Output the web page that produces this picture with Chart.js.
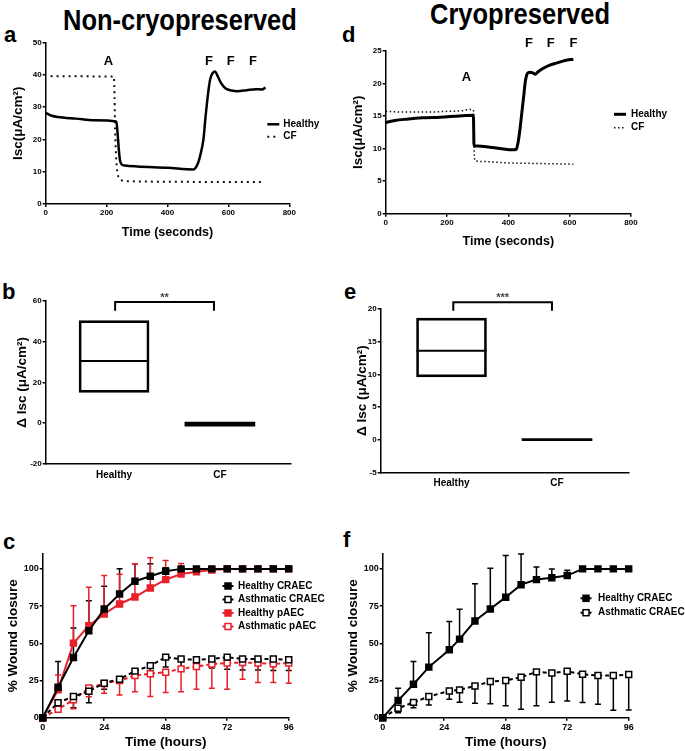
<!DOCTYPE html>
<html>
<head>
<meta charset="utf-8">
<script src="https://cdn.jsdelivr.net/npm/chart.js@4.4.0/dist/chart.umd.min.js"></script>
<style>
  body { margin: 0; background: #fff; }
  #fig { position: relative; width: 685px; height: 751px; overflow: hidden;
         font-family: 'Liberation Sans', Arial, sans-serif; font-weight: bold; color: #000; }
  #fig canvas { position: absolute; }
  .title { position: absolute; font-size: 25.5px; line-height: 1; white-space: nowrap;
           transform: scaleY(1.15); transform-origin: 0 21.6px; }
  .tag { position: absolute; font-size: 22px; line-height: 1; }
</style>
</head>
<body>
<div id="fig">
  <div class="title" style="left:63px;top:9.4px">Non-cryopreserved</div>
  <div class="title" style="left:430px;top:3.4px">Cryopreserved</div>
  <div class="tag" style="left:4px;top:24.4px">a</div>
  <div class="tag" style="left:342px;top:24.4px">d</div>
  <div class="tag" style="left:2px;top:281.4px">b</div>
  <div class="tag" style="left:344px;top:281.4px">e</div>
  <div class="tag" style="left:3px;top:531.4px">c</div>
  <div class="tag" style="left:343px;top:529px">f</div>

  <canvas id="chartA" width="340" height="212" style="left:0;top:30px"></canvas>
  <canvas id="chartD" width="345" height="222" style="left:340px;top:30px"></canvas>
  <canvas id="chartB" width="300" height="205" style="left:0;top:280px"></canvas>
  <canvas id="chartE" width="345" height="215" style="left:340px;top:280px"></canvas>
  <canvas id="chartC" width="340" height="211" style="left:0;top:540px"></canvas>
  <canvas id="chartF" width="345" height="211" style="left:340px;top:540px"></canvas>
</div>
<script>
// ---- a: non-cryopreserved Isc traces ----
const aHealthyTime = [0, 20, 40, 100, 160, 232, 236, 240, 244, 250, 260, 300, 400, 485, 500, 510, 518, 525, 533, 540, 550, 556, 565, 575, 590, 610, 630, 660, 690, 710, 722];
const aHealthyIsc  = [28.2, 27.3, 26.9, 26.4, 25.9, 25.5, 22, 17, 13.5, 12.2, 11.9, 11.6, 11.2, 10.7, 12.6, 16, 20, 27, 34, 38.5, 40.7, 41, 39.5, 37.5, 35.8, 35.1, 34.9, 35.2, 35.5, 35.4, 36];
const aCfTime = [16, 100, 200, 224, 226, 228, 231, 235, 240, 250, 260, 400, 550, 710];
const aCfIsc  = [39.5, 39.5, 39.4, 39.4, 33, 23, 15, 10, 8.2, 7.3, 7.1, 6.9, 6.8, 6.8];
const aXTicks = [0, 200, 400, 600, 800];
const aYTicks = [0, 10, 20, 30, 40, 50];
const aMarkText = ['A', 'F', 'F', 'F'];
const aMarkX = [206, 536, 608, 681];
const aMarkY = [44, 44, 44, 44];

// ---- d: cryopreserved Isc traces ----
const dHealthyTime = [0, 30, 68, 120, 177, 240, 286, 288, 300, 340, 373, 420, 426, 432, 438, 444, 450, 456, 462, 470, 480, 488, 495, 514, 535, 557, 585, 612];
const dHealthyIsc  = [14, 14.3, 14.5, 14.7, 14.8, 15, 15.1, 10.4, 10.4, 10.2, 10, 9.8, 9.9, 11, 13, 15.5, 18, 20.5, 21.5, 21.7, 21.6, 21.4, 21.7, 22.3, 22.8, 23.1, 23.5, 23.7];
const dCfTime = [0, 50, 100, 150, 200, 250, 275, 286, 289, 292, 320, 394, 500, 612];
const dCfIsc  = [15.7, 15.6, 15.6, 15.6, 15.7, 15.8, 16, 15.9, 9, 8.1, 8, 7.8, 7.7, 7.6];
const dXTicks = [0, 200, 400, 600, 800];
const dYTicks = [0, 5, 10, 15, 20, 25];
const dMarkText = ['A', 'F', 'F', 'F'];
const dMarkX = [263, 467, 538, 612];
const dMarkY = [20.9, 26.1, 26.1, 26.1];

// ---- b / e: delta Isc boxes ----
const boxCats = ['Healthy', 'CF'];
const bBoxLow  = [15.1, -1.5];
const bBoxHigh = [50.2, 0.5];
const bMedian  = [30.4];
const bYTicks = [-20, 0, 20, 40, 60];
const eBoxLow  = [9.6, -0.15];
const eBoxHigh = [18.6, 0.15];
const eMedian  = [13.6];
const eYTicks = [-5, 0, 5, 10, 15, 20];

// ---- c: wound closure, non-cryopreserved ----
const cTime = [0, 6, 12, 18, 24, 30, 36, 42, 48, 54, 60, 66, 72, 78, 84, 90, 96];
const cHealthyCraec   = [0, 20.4, 40.4, 58.4, 73, 83.1, 91.7, 95, 98.4, 100, 100, 100, 100, 100, 100, 100, 100];
const cHealthyCraecSd = [0, 17.3, 19.8, 20.2, 15.3, 17, 11.7, 8.4, 2.3, 0, 0, 0, 0, 0, 0, 0, 0];
const cAsthCraec      = [0, 10.1, 14.2, 17.8, 23.2, 25.9, 31.3, 35, 40.7, 39.4, 38.9, 39.4, 40.7, 39.4, 39.4, 39.4, 38.9];
const cAsthCraecSd    = [0, 4.9, 7.5, 7.7, 4.1, 1.6, 4, 4, 6.7, 6.8, 5.6, 6, 8.1, 7.3, 7.3, 7.7, 7.2];
const cHealthyPaec    = [0, 18.7, 50.1, 61.8, 69.7, 76.4, 81.1, 87.2, 92.8, 96.6, 98, 99.3, 100, 100, 100, 100, 100];
const cHealthyPaecSd  = [0, 10, 25.2, 25.8, 25.8, 20, 22.3, 20.2, 12.8, 7, 2, 0, 0, 0, 0, 0, 0];
const cAsthPaec       = [0, 5.7, 12, 20, 23, 25, 28.3, 29.5, 30.6, 32.8, 34.4, 36, 36.7, 37.1, 36.7, 36.2, 36.7];
const cAsthPaecSd     = [0, 2, 6, 6, 6.6, 9.7, 10.8, 15.3, 13.7, 15.3, 15.3, 16.2, 17.6, 11.2, 13.1, 12.6, 13.5];

// ---- f: wound closure, cryopreserved ----
const fTime = [0, 6, 12, 18, 26, 30, 36, 42, 48, 54, 60, 66, 72, 78, 84, 90, 96];
const fHealthy   = [0, 11.5, 22.5, 34, 45.6, 52.8, 65, 73, 81, 89.4, 92.8, 94, 95.5, 100, 100, 100, 100];
const fHealthySd = [0, 8.3, 15.3, 23, 19, 20, 25, 27.4, 28, 20.6, 8.5, 6, 3.5, 0, 0, 0, 0];
const fAsth      = [0, 6.3, 10.3, 14.2, 18, 18.7, 21.3, 24.3, 25, 27.2, 30.8, 30, 31.2, 29.2, 28.3, 28.3, 29];
const fAsthSd    = [0, 3, 3.6, 5.7, 5.6, 8.4, 11.6, 15, 17, 21.6, 22.7, 19.7, 20, 19, 19.3, 23.3, 23.8];

const woundXTicks = [0, 24, 48, 72, 96];
const woundYTicks = [0, 25, 50, 75, 100];

const RED = '#e8202a';
const FONT = "'Liberation Sans', Arial, sans-serif";

Chart.defaults.font.family = FONT;
Chart.defaults.font.weight = 'bold';
Chart.defaults.color = '#000';
Chart.defaults.animation = false;
Chart.defaults.plugins.legend.display = false;
Chart.defaults.plugins.tooltip.enabled = false;

const pts = (xs, ys) => xs.map((x, i) => ({ x: x, y: ys[i] }));

// error bars, marks (A / F), significance bracket and free-placed legend
const figureExtras = {
  id: 'figureExtras',
  beforeDatasetsDraw(chart) {
    const ctx = chart.ctx, xs = chart.scales.x, ys = chart.scales.y;
    chart.data.datasets.forEach((ds) => {
      const sd = ds.errUp || ds.errDown;
      if (!sd) return;
      const sign = ds.errUp ? 1 : -1;
      ctx.save();
      ctx.strokeStyle = ds.borderColor;
      ctx.lineWidth = 1.5;
      ds.data.forEach((p, i) => {
        if (!sd[i]) return;
        const x = xs.getPixelForValue(p.x);
        const y0 = ys.getPixelForValue(p.y);
        const y1 = ys.getPixelForValue(p.y + sign * sd[i]);
        ctx.beginPath();
        ctx.moveTo(x, y0); ctx.lineTo(x, y1);
        ctx.moveTo(x - 3, y1); ctx.lineTo(x + 3, y1);
        ctx.stroke();
      });
      ctx.restore();
    });
  },
  afterDraw(chart, args, opts) {
    const ctx = chart.ctx, xs = chart.scales.x, ys = chart.scales.y;
    ctx.save();
    ctx.fillStyle = '#000';
    ctx.strokeStyle = '#000';
    if (opts.marks) {
      const m = opts.marks;
      ctx.font = 'bold ' + m.size + 'px ' + FONT;
      ctx.textAlign = 'center';
      ctx.textBaseline = 'middle';
      m.text.forEach((t, i) => ctx.fillText(t, xs.getPixelForValue(m.x[i]), ys.getPixelForValue(m.y[i])));
    }
    if (opts.bracket) {
      const b = opts.bracket;
      const x0 = xs.getPixelForValue(b.x0), x1 = xs.getPixelForValue(b.x1);
      const y = ys.getPixelForValue(b.y), yl = ys.getPixelForValue(b.yLeg);
      ctx.lineWidth = 2;
      ctx.beginPath();
      ctx.moveTo(x0, yl); ctx.lineTo(x0, y); ctx.lineTo(x1, y); ctx.lineTo(x1, yl);
      ctx.stroke();
      ctx.fillStyle = '#444';
      ctx.font = 'bold 11px ' + FONT;
      ctx.textAlign = 'center';
      ctx.textBaseline = 'alphabetic';
      ctx.fillText(b.text, (x0 + x1) / 2, y - 1);
    }
    if (opts.legend) {
      const L = opts.legend;
      ctx.font = 'bold ' + L.size + 'px ' + FONT;
      ctx.textAlign = 'left';
      ctx.textBaseline = 'middle';
      chart.data.datasets.forEach((ds, i) => {
        const y = L.y + i * L.dy;
        ctx.strokeStyle = ds.borderColor;
        ctx.lineWidth = L.lineWidth || ds.borderWidth;
        ctx.setLineDash(L.square ? [] : (ds.borderDash || []));
        ctx.beginPath();
        ctx.moveTo(L.x - L.half, y); ctx.lineTo(L.x + L.half, y);
        ctx.stroke();
        ctx.setLineDash([]);
        if (L.square) {
          ctx.fillStyle = ds.pointBackgroundColor;
          ctx.lineWidth = 1.5;
          ctx.fillRect(L.x - 3, y - 3, 6, 6);
          ctx.strokeRect(L.x - 3, y - 3, 6, 6);
        }
        ctx.fillStyle = ds.legendColor || '#000';
        ctx.fillText(ds.label, L.textX, y);
      });
    }
    ctx.restore();
  }
};

function axis(o) {
  return {
    type: 'linear',
    min: o.min,
    max: o.max,
    offset: false,
    afterFit: (s) => { if (s.isHorizontal()) s.height = o.size; else s.width = o.size; },
    afterBuildTicks: (s) => { s.ticks = o.ticks.map((v) => ({ value: v })); },
    grid: { drawOnChartArea: false, drawTicks: o.tick !== 0, tickLength: o.tick || 3, color: '#000', lineWidth: 1.5, offset: false },
    border: { color: '#000', width: 1.5 },
    ticks: { font: { size: o.font }, padding: o.pad, maxRotation: 0, minRotation: 0, color: '#000',
             callback: o.cb || ((v) => String(v)) },
    title: o.title
      ? { display: true, text: o.title, color: '#000', font: { size: o.titleSize }, padding: o.titlePad }
      : { display: false }
  };
}

function traceChart(id, healthy, cf, xTicks, yTicks, yMax, pad, xSize, xTitlePad, marks, legend, widths) {
  return new Chart(document.getElementById(id), {
    type: 'line',
    data: {
      datasets: [
        { label: 'Healthy', data: healthy, borderColor: '#000', borderWidth: widths[0], pointRadius: 0,
          cubicInterpolationMode: 'monotone' },
        { label: 'CF', data: cf, borderColor: '#111', borderWidth: widths[1], borderDash: widths[2], pointRadius: 0,
          cubicInterpolationMode: 'monotone' }
      ]
    },
    options: {
      responsive: false,
      layout: { padding: pad, autoPadding: false },
      scales: {
        x: axis({ min: 0, max: 800, ticks: xTicks, size: xSize, font: 8, pad: 1,
                  title: 'Time (seconds)', titleSize: 12.5, titlePad: { top: 0, bottom: xTitlePad } }),
        y: axis({ min: 0, max: yMax, ticks: yTicks, size: 45.7, font: 8, pad: 1,
                  title: 'Isc(\u03bcA/cm\u00b2)', titleSize: 13.5, titlePad: { top: 10, bottom: 0 } })
      },
      plugins: { figureExtras: { marks: marks, legend: legend } }
    },
    plugins: [figureExtras]
  });
}

traceChart('chartA', pts(aHealthyTime, aHealthyIsc), pts(aCfTime, aCfIsc), aXTicks, aYTicks, 50,
  { top: 12.3, right: 50.7, left: 0, bottom: 0 }, 38, 2.2,
  { text: aMarkText, x: aMarkX, y: aMarkY, size: 13 },
  { x: 273.3, half: 6, textX: 283.3, y: 94.3, dy: 12.4, size: 10 },
  [2.5, 2, [2, 4]]);

traceChart('chartD', pts(dHealthyTime, dHealthyIsc), pts(dCfTime, dCfIsc), dXTicks, dYTicks, 25,
  { top: 20.7, right: 54, left: 0, bottom: 0 }, 38.3, 2.5,
  { text: dMarkText, x: dMarkX, y: dMarkY, size: 13 },
  { x: 280, half: 6, textX: 291, y: 84.3, dy: 13.4, size: 10 },
  [3, 1.5, [1.5, 2.5]]);

function boxChart(id, low, high, median, yTicks, yMin, yMax, xMin, xMax, pad, yWidth, xSize, bracket) {
  return new Chart(document.getElementById(id), {
    type: 'bar',
    data: {
      datasets: [
        { type: 'bar', label: 'range', data: boxCats.map((c, i) => ({ x: i, y: [low[i], high[i]] })),
          backgroundColor: ['rgba(0,0,0,0)', '#000'], borderColor: '#000', borderWidth: [2, 0],
          borderSkipped: false, barThickness: 70 },
        { type: 'scatter', label: 'median', data: median.map((m, i) => ({ x: i, y: m })),
          pointStyle: 'line', pointRadius: 35, pointHoverRadius: 35, pointBorderColor: '#000', pointBorderWidth: 2 }
      ]
    },
    options: {
      responsive: false,
      layout: { padding: pad, autoPadding: false },
      scales: {
        x: axis({ min: xMin, max: xMax, ticks: [0, 1], size: xSize, font: 10, pad: 5, tick: 0,
                  cb: (v) => boxCats[v] }),
        y: axis({ min: yMin, max: yMax, ticks: yTicks, size: yWidth, font: 8, pad: 1,
                  title: '\u0394 Isc (\u03bcA/cm\u00b2)', titleSize: 13.5, titlePad: { top: 14, bottom: 0 } })
      },
      plugins: { figureExtras: { bracket: bracket } }
    },
    plugins: [figureExtras]
  });
}

boxChart('chartB', bBoxLow, bBoxHigh, bMedian, bYTicks, -20, 60, -0.646, 1.669,
  { top: 20.7, right: 9.3, left: 0, bottom: 0 }, 45.7, 21,
  { x0: 0.01, x1: 0.944, y: 59.4, yLeg: 55.1, text: '**' });

boxChart('chartE', eBoxLow, eBoxHigh, eMedian, eYTicks, -5, 20, -0.671, 1.682,
  { top: 29, right: 56, left: 0, bottom: 0 }, 40.7, 22.7,
  { x0: 0.017, x1: 0.952, y: 21.03, yLeg: 19.74, text: '***' });

function woundSet(label, times, vals, sd, color, open, up) {
  const ds = {
    label: label,
    data: pts(times, vals),
    borderColor: color,
    borderWidth: 2,
    borderDash: open ? [4, 3] : [],
    pointStyle: 'rect',
    pointRadius: 4.2,
    pointHoverRadius: 4.2,
    pointBorderWidth: 1.5,
    pointBorderColor: color,
    pointBackgroundColor: open ? '#fff' : color,
    legendColor: '#000',
    tension: 0,
    clip: false
  };
  if (up) ds.errUp = sd; else ds.errDown = sd;
  return ds;
}

function woundChart(id, datasets, times, padRight, legend) {
  return new Chart(document.getElementById(id), {
    type: 'line',
    data: { datasets: datasets },
    options: {
      responsive: false,
      layout: { padding: { top: 14, right: padRight, left: 0, bottom: 0 }, autoPadding: false },
      scales: {
        x: axis({ min: 0, max: 96, ticks: woundXTicks, size: 33.3, font: 9, pad: 1,
                  title: 'Time (hours)', titleSize: 13.5, titlePad: { top: 0, bottom: 0.2 } }),
        y: axis({ min: 0, max: 110, ticks: woundYTicks, size: 42.7, font: 9, pad: 1,
                  title: '% Wound closure', titleSize: 13.5, titlePad: { top: 5, bottom: 0 } })
      },
      plugins: { figureExtras: { legend: legend } }
    },
    plugins: [figureExtras]
  });
}

woundChart('chartC', [
  woundSet('Healthy CRAEC', cTime, cHealthyCraec, cHealthyCraecSd, '#000', false, true),
  woundSet('Asthmatic CRAEC', cTime, cAsthCraec, cAsthCraecSd, '#000', true, false),
  woundSet('Healthy pAEC', cTime, cHealthyPaec, cHealthyPaecSd, RED, false, true),
  woundSet('Asthmatic pAEC', cTime, cAsthPaec, cAsthPaecSd, RED, true, false)
], cTime, 51.3, { x: 228, half: 5.5, textX: 238, y: 46, dy: 13.5, size: 10, square: true, lineWidth: 2 });

woundChart('chartF', [
  woundSet('Healthy CRAEC', fTime, fHealthy, fHealthySd, '#000', false, true),
  woundSet('Asthmatic CRAEC', fTime, fAsth, fAsthSd, '#000', true, false)
], fTime, 56.3, { x: 246, half: 5.5, textX: 258, y: 58.3, dy: 14.4, size: 10, square: true, lineWidth: 2 });
</script>
</body>
</html>
